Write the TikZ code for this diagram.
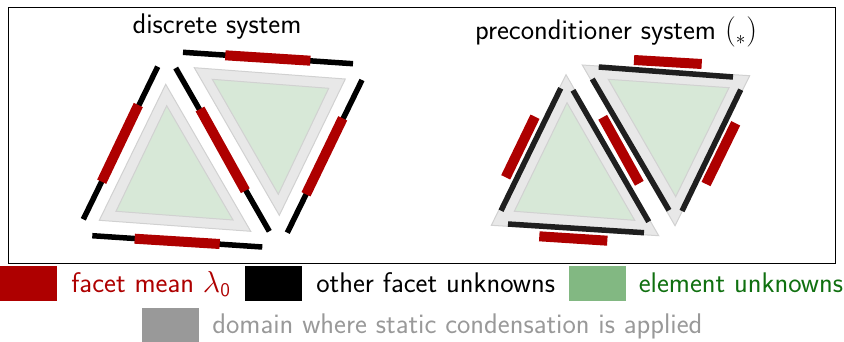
\documentclass[tikz,border=0pt]{standalone}
\usepackage{amsmath, amssymb}
\usepackage{tikz}
\renewcommand{\familydefault}{\sfdefault}
\definecolor{facetred}{HTML}{AE0000}
\definecolor{elemgreen}{HTML}{82B882}
\definecolor{textgreen}{HTML}{107010}
\definecolor{domgray}{HTML}{999999}
\tikzset{
	domaintri/.style={draw=black!18, fill=black!9, line width=0.02cm},
	elemtri/.style={draw=black!18, fill=elemgreen!32, line width=0.02cm},
	facetblack/.style={black, line width=0.11cm},
	facetdark/.style={black!88, line width=0.11cm},
	facetmean/.style={facetred, line width=0.2cm},
	legendbox/.style={minimum size=0.0cm, inner sep=0pt, text width=1.14cm, minimum height=0.69cm},
	legendtext/.style={anchor=base west, inner sep=0pt, font=\fontsize{16.15}{18}\selectfont},
}

\begin{document}
\begin{tikzpicture}[x=0.02cm, y=-0.02cm]
	\useasboundingbox (0,0) rectangle (844,341);
	\draw[line width=0.02cm] (8.5,7.5) rectangle (835.5,263.5);

	% --- discrete system ---
	\begin{scope}
		\node[inner sep=0pt, anchor=base, font=\fontsize{16.15}{18}\selectfont] (titleleft) at (217,34) {discrete system};

		\draw[domaintri] (165.7,84.3) -- (99.3,220.3) -- (250.7,231.3) -- cycle;
		\draw[elemtri] (166.7,105.7) -- (116,211.3) -- (233,220) -- cycle;

		\draw[domaintri] (194.3,67.7) -- (345.3,79) -- (279.3,215.3) -- cycle;
		\draw[elemtri] (212.3,79.3) -- (328.7,88.3) -- (278.3,194.3) -- cycle;

		\draw[facetblack] (157.7,66.7) -- (83.3,219.3);
		\draw[facetblack] (183,52.3) -- (353,63.7);
		\draw[facetblack] (175.7,68) -- (269.3,231.3);
		\draw[facetblack] (362,80) -- (287.3,232.7);
		\draw[facetblack] (92.3,235.7) -- (262.3,247);

		\draw[facetmean] (138.3,105) -- (101.7,181.7);
		\draw[facetmean] (225.3,55.3) -- (310.3,60.7);
		\draw[facetmean] (200,109) -- (245.3,190.7);
		\draw[facetmean] (342.7,118.3) -- (306,194.3);
		\draw[facetmean] (134.7,238.7) -- (219.7,244);
	\end{scope}

	% --- preconditioner system ---
	\begin{scope}
		\node[inner sep=0pt, anchor=base, font=\fontsize{16.15}{18}\selectfont] (titleright) at (616,40) {preconditioner system $(_*)$};

		\draw[domaintri] (566,74.7) -- (491.3,225.3) -- (658.7,235.7) -- cycle;
		\draw[elemtri] (567,102.7) -- (514.3,211.3) -- (634.7,220.3) -- cycle;

		\draw[domaintri] (582.3,65) -- (749.7,75.7) -- (675,225.7) -- cycle;
		\draw[elemtri] (608.3,79.3) -- (729,87.7) -- (675.7,196.7) -- cycle;

		\draw[facetdark] (560.7,88.3) -- (501,210.7);
		\draw[facetdark] (573,90.3) -- (648.7,221.7);
		\draw[facetdark] (508,224) -- (644,232.7);
		\draw[facetdark] (598.7,67) -- (733,77);
		\draw[facetdark] (592.3,79) -- (669,210.3);
		\draw[facetdark] (740.7,89.7) -- (682,211);

		\draw[facetmean] (535,116.7) -- (505.7,177.3);
		\draw[facetmean] (602.7,117.3) -- (639.3,183.3);
		\draw[facetmean] (539.3,236.3) -- (607.3,240.7);
		\draw[facetmean] (634,60) -- (701.7,64);
		\draw[facetmean] (735.7,123.3) -- (706,184);
	\end{scope}

	% --- legend ---
	\node[legendbox, fill=facetred] (boxmean) at (28.5,283.5) {};
	\node[legendbox, fill=black] (boxother) at (273,283.5) {};
	\node[legendbox, fill=elemgreen] (boxelem) at (597.5,283.5) {};
	\node[legendbox, fill=domgray] (boxdom) at (170.5,325) {};

	\node[legendtext, text=facetred] (labelmean) at (71,292) {facet mean $\lambda_{\mathsf{0}}$};
	\node[legendtext] (labelother) at (316,292) {other facet unknowns};
	\node[legendtext, text=textgreen] (labelelem) at (638.5,292) {element unknowns};
	\node[legendtext, text=domgray] (labeldom) at (212,333) {domain where static condensation is applied};
\end{tikzpicture}
\end{document}
